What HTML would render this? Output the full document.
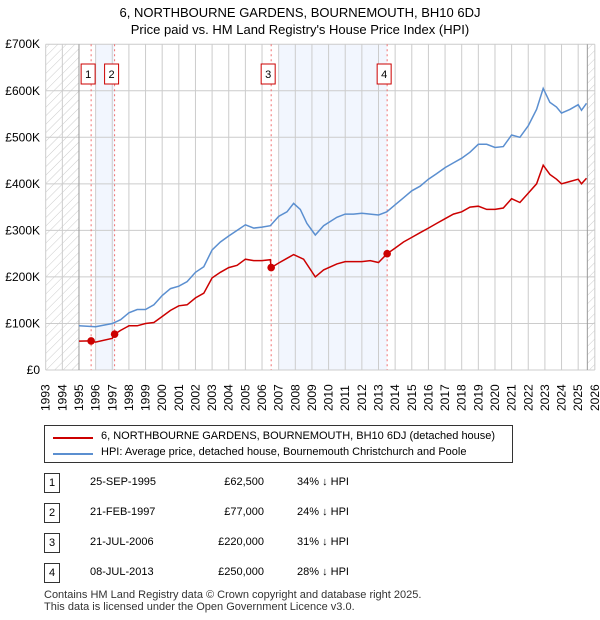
<!DOCTYPE html>
<html><head><meta charset="utf-8"><style>
body{margin:0;width:600px;height:620px;background:#fff;font-family:"Liberation Sans","DejaVu Sans",sans-serif;color:#000;position:relative;overflow:hidden}
.t{position:absolute;font-size:12px}
</style></head><body>
<div class="t" style="left:0;width:600px;text-align:center;top:4px;font-size:13px;line-height:17px">6, NORTHBOURNE GARDENS, BOURNEMOUTH, BH10 6DJ<br>Price paid vs. HM Land Registry's House Price Index (HPI)</div>
<svg id="c" width="600" height="420" style="position:absolute;left:0;top:0">
<defs><pattern id="h" width="6" height="6" patternUnits="userSpaceOnUse" patternTransform="rotate(45)"><line x1="0" y1="0" x2="0" y2="6" stroke="#ccc" stroke-width="1"/></pattern></defs>
</svg>
<div style="position:absolute;left:44px;top:425px;width:467px;height:36px;border:1px solid #333;font-size:11px">
<div style="position:absolute;left:8px;top:5px;width:40px;height:2px;background:#cc0000;margin-top:6px"></div><div style="position:absolute;left:56px;top:4px">6, NORTHBOURNE GARDENS, BOURNEMOUTH, BH10 6DJ (detached house)</div>
<div style="position:absolute;left:8px;top:21px;width:40px;height:2px;background:#5b8fd0;margin-top:6px"></div><div style="position:absolute;left:56px;top:20px">HPI: Average price, detached house, Bournemouth Christchurch and Poole</div>
</div>
<div id="tbl"></div>
<div class="t" style="left:44px;top:589px;font-size:11px;line-height:12px;color:#333">Contains HM Land Registry data © Crown copyright and database right 2025.<br>This data is licensed under the Open Government Licence v3.0.</div>
<script>
const years=[];for(let y=1993;y<=2026;y++)years.push(y);
const yTicks=[0,100,200,300,400,500,600,700];
const hpiX=[1995,1996,1997,1997.5,1998,1998.5,1999,1999.5,2000,2000.5,2001,2001.5,2002,2002.5,2003,2003.5,2004,2004.5,2005,2005.5,2006,2006.5,2007,2007.5,2007.9,2008.3,2008.7,2009.2,2009.7,2010.5,2011,2011.5,2012,2012.5,2013,2013.5,2014,2014.5,2015,2015.5,2016,2016.5,2017,2017.5,2018,2018.5,2019,2019.5,2020,2020.5,2021,2021.5,2022,2022.5,2022.9,2023.3,2023.7,2024,2024.5,2025,2025.2,2025.5];
const hpiY=[95,93,100,108,123,130,130,140,160,175,180,190,210,222,258,275,288,300,312,305,307,310,330,340,358,345,315,290,310,328,335,335,337,335,333,340,355,370,385,395,410,422,435,445,455,468,485,485,478,480,505,500,525,560,605,575,565,552,560,570,558,573];
const prX=[1995,1995.73,1996,1997,1997.14,1997.5,1998,1998.5,1999,1999.5,2000,2000.5,2001,2001.5,2002,2002.5,2003,2003.5,2004,2004.5,2005,2005.5,2006,2006.5,2006.55,2007,2007.5,2007.9,2008.5,2009.2,2009.7,2010.5,2011,2012,2012.5,2013,2013.52,2014,2014.5,2015,2015.5,2016,2016.5,2017,2017.5,2018,2018.5,2019,2019.5,2020,2020.5,2021,2021.5,2022,2022.5,2022.9,2023.3,2023.7,2024,2024.5,2025,2025.2,2025.5];
const prY=[62,62.5,60,68,77,85,95,95,100,102,115,128,138,140,155,165,198,210,220,225,238,235,235,237,220,230,240,248,238,200,215,228,233,233,235,231,250,262,275,285,295,305,315,325,335,340,350,352,345,345,348,368,360,380,400,440,420,410,400,405,410,400,412];
const saleX=[1995.73,1997.14,2006.55,2013.52];
const saleY=[62.5,77,220,250];
const saleLbl=["1","2","3","4"];
const saleDate=["25-SEP-1995","21-FEB-1997","21-JUL-2006","08-JUL-2013"];
const salePrice=["£62,500","£77,000","£220,000","£250,000"];
const salePct=["34% ↓ HPI","24% ↓ HPI","31% ↓ HPI","28% ↓ HPI"];
const shade=[[1996,1997.14],[2007,2013.52]];
const X=v=>45.7+(v-1993)*16.64, Y=v=>370-v*0.4654;
const svg=document.getElementById('c');const NS='http://www.w3.org/2000/svg';
function mk(t,a){const e=document.createElementNS(NS,t);for(const k in a)e.setAttribute(k,a[k]);svg.appendChild(e);return e;}
shade.forEach(s=>{const e=mk('rect',{x:X(s[0]),y:Y(700),width:X(s[1])-X(s[0]),height:Y(0)-Y(700),fill:'#f2f6fe'});

});
years.forEach(y=>{const e=mk('line',{x1:X(y),x2:X(y),y1:Y(700),y2:Y(0),stroke:'#ccc'});


const t=mk('text',{transform:`translate(${X(y)+4},411) rotate(-90)`,'font-size':12,'font-family':'Liberation Sans'});t.textContent=y;

});
yTicks.forEach(v=>{const e=mk('line',{x1:X(1993),x2:X(2026),y1:Y(v),y2:Y(v),stroke:'#ccc'});


const t=mk('text',{x:40,y:Y(v)+4,'text-anchor':'end','font-size':12,'font-family':'Liberation Sans'});t.textContent=v?'£'+v+'K':'£0';

});
[[1993,1995],[2025.55,2026]].forEach(r=>{const e=mk('rect',{x:X(r[0]),y:Y(700),width:X(r[1])-X(r[0]),height:Y(0)-Y(700),fill:'url(#h)'});


mk('line',{x1:X(r[0]===1993?1995:2025.55),x2:X(r[0]===1993?1995:2025.55),y1:Y(700),y2:Y(0),stroke:'#999'});});
saleX.forEach((x,i)=>{const e=mk('line',{x1:X(x),x2:X(x),y1:Y(700),y2:Y(0),stroke:'#f07070','stroke-dasharray':'2,3'});

});
const p=(xs,ys)=>xs.map((x,i)=>X(x).toFixed(1)+','+Y(ys[i]).toFixed(1)).join(' ');
const hl=mk('polyline',{points:p(hpiX,hpiY),fill:'none',stroke:'#5b8fd0','stroke-width':1.5});


const pl=mk('polyline',{points:p(prX,prY),fill:'none',stroke:'#cc0000','stroke-width':1.5});


saleX.forEach((x,i)=>{const c=mk('circle',{cx:X(x),cy:Y(saleY[i]),r:3.8,fill:'#cc0000'});


const bx=X(x)-10;
const b=mk('rect',{x:bx,y:64,width:14,height:20,fill:'#fff',stroke:'#cc0000'});


const t=mk('text',{x:bx+7,y:78,'text-anchor':'middle','font-size':11,'font-family':'Liberation Sans'});t.textContent=saleLbl[i];

});
const tb=document.getElementById('tbl');
saleLbl.forEach((l,i)=>{const top=473+i*30;
const r=document.createElement('div');r.style.cssText=`position:absolute;left:0;top:${top}px;width:600px;height:20px;font-size:11px`;


r.innerHTML=`<div style="position:absolute;left:44px;top:0;width:14px;height:18px;border:1px solid #333;text-align:center;line-height:18px">${l}</div><div style="position:absolute;left:90px;top:3px">${saleDate[i]}</div><div style="position:absolute;left:180px;width:84px;text-align:right;top:3px">${salePrice[i]}</div><div style="position:absolute;left:297px;top:3px">${salePct[i]}</div>`;
tb.appendChild(r);});
</script>
</body></html>
